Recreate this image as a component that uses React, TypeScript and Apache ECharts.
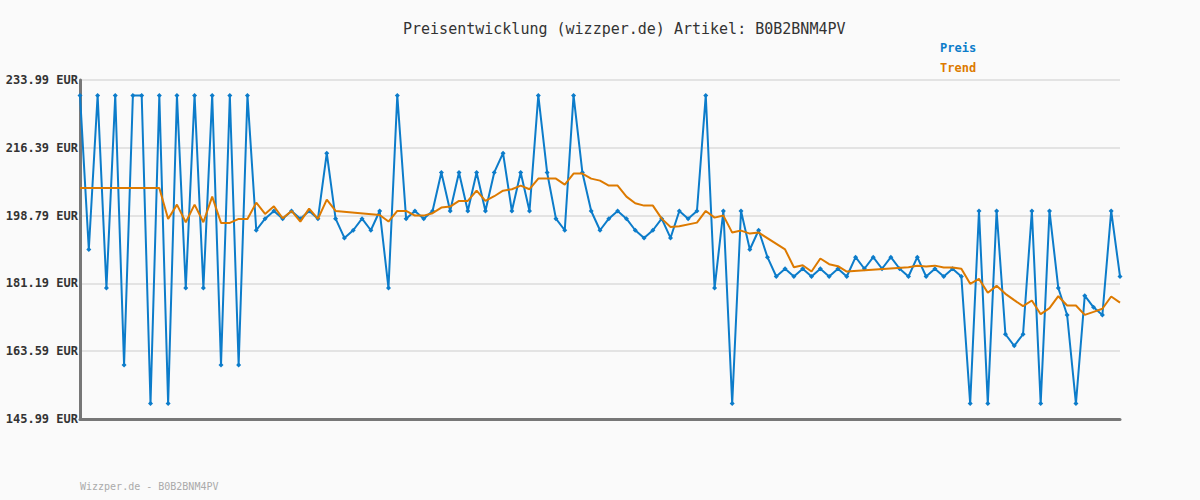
import React, { useEffect, useRef } from "react";
import * as echarts from "echarts";

const titleText = "Preisentwicklung (wizzper.de) Artikel: B0B2BNM4PV";
const footerText = "Wizzper.de - B0B2BNM4PV";

const yTicks = [145.99, 163.59, 181.19, 198.79, 216.39, 233.99];

const preis = [
  229.99, 189.99, 229.99, 179.99, 229.99, 159.99, 229.99, 229.99, 149.99, 229.99,
  149.99, 229.99, 179.99, 229.99, 179.99, 229.99, 159.99, 229.99, 159.99, 229.99,
  194.99, 197.99, 199.99, 197.99, 199.99, 197.99, 199.99, 197.99, 214.99, 197.99,
  192.99, 194.99, 197.99, 194.99, 199.99, 179.99, 229.99, 197.99, 199.99, 197.99,
  199.99, 209.99, 199.99, 209.99, 199.99, 209.99, 199.99, 209.99, 214.99, 199.99,
  209.99, 199.99, 229.99, 209.99, 197.99, 194.99, 229.99, 209.99, 199.99, 194.99,
  197.99, 199.99, 197.99, 194.99, 192.99, 194.99, 197.99, 192.99, 199.99, 197.99,
  199.99, 229.99, 179.99, 199.99, 149.99, 199.99, 189.99, 194.99, 187.99, 182.99,
  184.99, 182.99, 184.99, 182.99, 184.99, 182.99, 184.99, 182.99, 187.99, 184.99,
  187.99, 184.99, 187.99, 184.99, 182.99, 187.99, 182.99, 184.99, 182.99, 184.99,
  182.99, 149.99, 199.99, 149.99, 199.99, 167.99, 164.99, 167.99, 199.99, 149.99,
  199.99, 179.99, 172.99, 149.99, 177.99, 174.99, 172.99, 199.99, 182.99,
];

const trend = [
  205.97, 205.97, 205.97, 205.97, 205.97, 205.97, 205.97, 205.97, 205.97, 205.97,
  197.93, 201.64, 197.07, 201.64, 197.07, 203.72, 196.9, 196.9, 197.93, 197.93,
  202.16, 199.23, 201.2, 198.1, 199.99, 197.24, 200.6, 197.93, 202.93, 199.99,
  null, null, null, null, 198.96, 197.24, 199.99, 199.99, 198.79, 198.79,
  199.42, 200.88, 201.13, 202.6, 202.6, 205.26, 202.6, 203.82, 205.26, 205.64,
  206.58, 205.64, 208.39, 208.39, 208.39, 206.85, 209.7, 209.7, 208.39, 207.87,
  206.58, 206.58, 203.72, 202.0, 201.38, 201.38, 198.0, 195.84, 196.0, null,
  196.97, 199.99, 198.27, 198.79, 194.38, 194.9, 194.12, 194.38, null, null,
  190.0, 185.4, 185.9, 184.27, 187.65, 186.18, 185.66, 184.27, null, null,
  null, null, null, null, 185.4, 185.8, 185.6, 185.8, 185.3, 185.3,
  184.99, 181.07, 182.37, 178.74, 180.55, 178.48, 176.84, 175.28, 176.75, 173.2,
  174.76, 177.87, 175.45, 175.45, 173.03, 173.81, 174.6, 177.78, 176.2,
];

const categories = preis.map((_, i) => String(i + 1));

const BLUE = "#0c7cca";
const ORANGE = "#dd7a00";
const MONO = "'DejaVu Sans Mono', monospace";

export default function App() {
  const ref = useRef<HTMLDivElement>(null);

  useEffect(() => {
    document.body.style.margin = "0";
    document.body.style.background = "#fafafa";
    if (!ref.current) return;
    const chart = echarts.init(ref.current, undefined, { renderer: "svg" });
    chart.setOption({
      animation: false,
      backgroundColor: "#fafafa",
      title: {
        text: titleText,
        left: 398,
        top: 16,
        textStyle: {
          fontFamily: MONO,
          fontSize: 15,
          fontWeight: "normal",
          color: "#333",
        },
      },
      legend: {
        orient: "vertical",
        left: 930,
        top: 37,
        icon: "none",
        itemWidth: 0,
        itemHeight: 12,
        itemGap: 8,
        selectedMode: false,
        data: [
          { name: "Preis", textStyle: { color: BLUE } },
          { name: "Trend", textStyle: { color: ORANGE } },
        ],
        textStyle: { fontFamily: MONO, fontSize: 12, fontWeight: "bold" },
      },
      graphic: [
        {
          type: "text",
          left: 80,
          top: 481,
          style: {
            text: footerText,
            fill: "#aaa",
            font: `10px ${MONO}`,
          },
        },
      ],
      grid: { left: 80, right: 80, top: 80, bottom: 81, containLabel: false },
      xAxis: {
        type: "category",
        data: categories,
        boundaryGap: false,
        axisLine: { show: true, lineStyle: { color: "#777", width: 3 } },
        axisTick: { show: false },
        axisLabel: { show: false },
        splitLine: { show: false },
      },
      yAxis: {
        type: "value",
        min: yTicks[0],
        max: yTicks[yTicks.length - 1],
        axisLine: { show: true, lineStyle: { color: "#777", width: 3 } },
        axisTick: { show: false, customValues: yTicks },
        axisLabel: {
          customValues: yTicks,
          formatter: (v: number) => `${v.toFixed(2)} EUR`,
          fontFamily: MONO,
          fontSize: 12,
          fontWeight: "bold",
          color: "#333",
          margin: 2,
        },
        splitLine: { show: true, lineStyle: { color: "#e3e3e3", width: 2 } },
      },
      series: [
        {
          name: "Preis",
          type: "line",
          data: preis,
          color: BLUE,
          lineStyle: { width: 2, color: BLUE },
          symbol: "diamond",
          symbolSize: 5,
          itemStyle: { color: BLUE },
          z: 2,
        },
        {
          name: "Trend",
          type: "line",
          data: trend,
          connectNulls: true,
          color: ORANGE,
          lineStyle: { width: 2, color: ORANGE },
          showSymbol: false,
          symbol: "none",
          z: 3,
        },
      ],
    });
    return () => chart.dispose();
  }, []);

  return <div ref={ref} style={{ width: 1200, height: 500 }} />;
}
